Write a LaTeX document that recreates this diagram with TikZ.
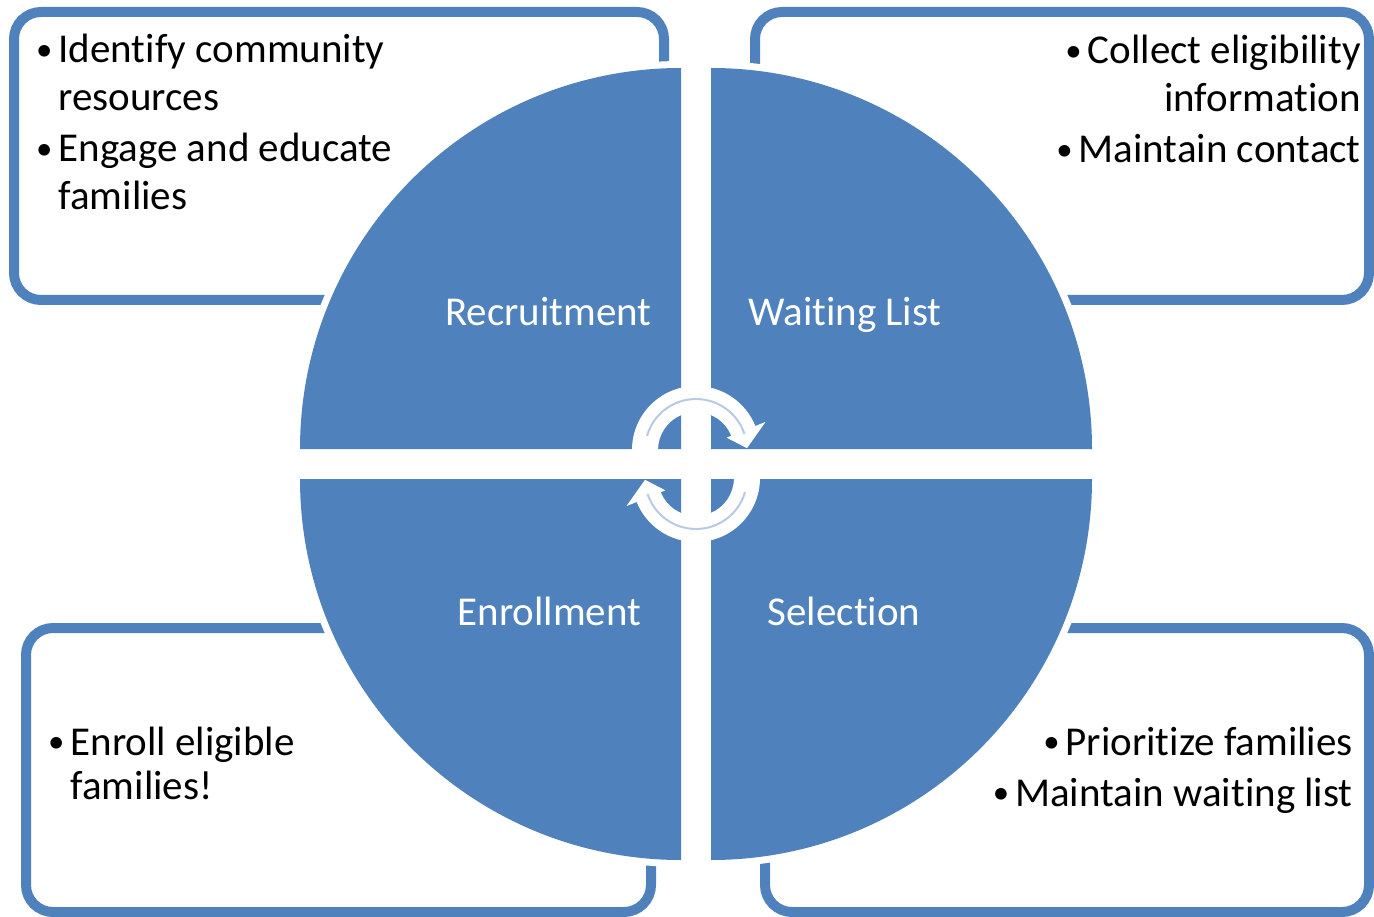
\documentclass[tikz,border=0pt]{standalone}
\usepackage{fontspec}
\setmainfont{Carlito}[Ligatures={NoCommon,NoContextual}]
\definecolor{qblue}{HTML}{4F81BD}
\definecolor{pale}{HTML}{B9CAE3}
\newcommand{\bul}{\raisebox{0.06em}{\scalebox{0.8}{\textbullet}}}
\begin{document}
\begin{tikzpicture}[x=1pt,y=-1pt,
  box/.style={draw=qblue, line width=10pt, rounded corners=27pt},
  quad/.style={fill=qblue},
  halo/.style={fill=white},
  lbl/.style={text=white, font=\fontsize{41}{48}\selectfont, inner sep=0pt, anchor=base},
  txt/.style={text=black, font=\fontsize{41}{48}\selectfont, inner sep=0pt},
  cyc/.style={fill=white},
  cycline/.style={draw=pale, line width=2pt}]
\useasboundingbox (0,0) rectangle (1374,917);

% boxes
\draw[box] (14,12) rectangle (664,300);
\draw[box] (755,12) rectangle (1369,300);
\draw[box] (26,628) rectangle (651,912);
\draw[box] (765,628) rectangle (1369,912);

% white halos
\fill[halo] (681,449) -- ++(180:388) arc[start angle=180,end angle=270,radius=388] -- cycle;
\fill[halo] (711,449) -- ++(270:388) arc[start angle=270,end angle=360,radius=388] -- cycle;
\fill[halo] (711,479) -- ++(0:388) arc[start angle=0,end angle=90,radius=388] -- cycle;
\fill[halo] (681,479) -- ++(90:388) arc[start angle=90,end angle=180,radius=388] -- cycle;

% quadrants
\fill[quad] (681,449) -- ++(180:381) arc[start angle=180,end angle=270,radius=381] -- cycle;
\fill[quad] (711,449) -- ++(270:381) arc[start angle=270,end angle=360,radius=381] -- cycle;
\fill[quad] (711,479) -- ++(0:381) arc[start angle=0,end angle=90,radius=381] -- cycle;
\fill[quad] (681,479) -- ++(90:381) arc[start angle=90,end angle=180,radius=381] -- cycle;

% labels
\node[lbl] (rec) at (548.5,326) {Recruitment};
\node[lbl] (wait) at (845,326) {Waiting List};
\node[lbl] (enr) at (549.5,625) {Enrollment};
\node[lbl] (sel) at (844,625) {Selection};

% cycle arrows
\begin{scope}[shift={(696,450)}]
\fill[cyc] (180:64) arc[start angle=180,end angle=338,radius=64] -- (338:75) -- (358:51) -- (338:33) -- (338:38) arc[start angle=338,end angle=180,radius=38] -- cycle;
\draw[cycline] (196:51) arc[start angle=196,end angle=342,radius=51];
\end{scope}
\begin{scope}[shift={(696,478)},rotate=180]
\fill[cyc] (180:64) arc[start angle=180,end angle=338,radius=64] -- (338:75) -- (358:51) -- (338:33) -- (338:38) arc[start angle=338,end angle=180,radius=38] -- cycle;
\draw[cycline] (196:51) arc[start angle=196,end angle=342,radius=51];
\end{scope}

% box texts
\node[txt, anchor=base west] (tltext) at (36,63) {\begin{tabular}[t]{@{}l@{\hspace{6pt}}l@{}}\bul & Identify community\\ & resources\\[3pt] \bul & Engage and educate\\ & families\end{tabular}};
\node[txt, anchor=base east] (trtext) at (1361,64) {\begin{tabular}[t]{@{}r@{}}\bul\hspace{6pt}Collect eligibility\\ information\\[3pt] \bul\hspace{6pt}Maintain contact\end{tabular}};
\node[txt, anchor=base west, font=\fontsize{41}{44}\selectfont] (bltext) at (48,755) {\begin{tabular}[t]{@{}l@{\hspace{6pt}}l@{}}\bul & Enroll eligible\\ & families!\end{tabular}};
\node[txt, anchor=base east] (brtext) at (1353,755) {\begin{tabular}[t]{@{}r@{}}\bul\hspace{6pt}Prioritize families\\[3pt] \bul\hspace{6pt}Maintain waiting list\end{tabular}};
\end{tikzpicture}
\end{document}
